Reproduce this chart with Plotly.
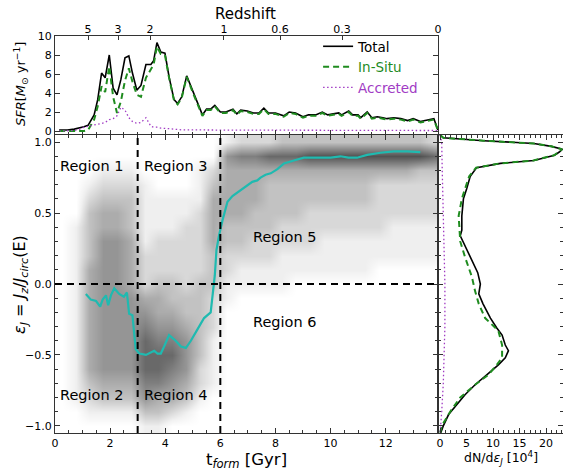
import plotly.graph_objects as go

FONT = "DejaVu Sans"

# ---- star formation history: cosmic time [Gyr] and SFR [Msun/yr] ----
t_sfr = [0.15, 0.45, 0.7, 0.9, 1.05, 1.2, 1.42, 1.55, 1.69, 1.82, 1.97, 2.11, 2.25, 2.39,
         2.54, 2.68, 2.81, 2.97, 3.12, 3.3, 3.48, 3.58, 3.7, 3.84, 3.99, 4.14, 4.32, 4.45,
         4.6, 4.78, 5.05, 5.35, 5.5, 5.65, 5.8, 6.0, 6.2, 6.46, 6.6, 6.74, 6.98, 7.2, 7.4,
         7.58, 7.75, 8.0, 8.3, 8.5, 8.73, 9.0, 9.2, 9.46, 9.7, 9.9, 10.1, 10.3, 10.4, 10.66,
         10.8, 11.0, 11.1, 11.33, 11.5, 11.7, 11.9, 12.05, 12.3, 12.55, 12.8, 13.0, 13.26,
         13.56, 13.75, 13.9]
sfr_total = [0.1, 0.1, 0.2, 0.3, 0.45, 0.6, 1.7, 3.3, 6.1, 5.6, 8.0, 4.5, 3.8, 5.4,
             7.7, 7.9, 6.1, 4.3, 4.8, 7.0, 7.0, 7.4, 9.3, 8.3, 8.2, 5.7, 3.3, 2.9,
             3.6, 5.8, 3.8, 1.7, 2.3, 2.3, 2.7, 2.0, 2.0, 2.3, 1.8, 2.2, 2.1, 1.9, 1.9,
             2.4, 1.9, 1.9, 1.6, 2.0, 1.9, 1.5, 1.7, 1.7, 2.0, 1.7, 1.8, 1.9, 1.7, 2.1,
             1.7, 1.7, 1.4, 2.0, 1.4, 1.5, 1.4, 1.3, 1.4, 1.3, 1.1, 1.3, 1.0,
             1.2, 1.3, 0.1]
sfr_insitu = [0.0, 0.0, 0.0, 0.0, 0.0, 0.1, 1.2, 2.6, 4.7, 4.1, 6.8, 3.6, 1.9, 3.1,
              5.3, 6.6, 5.2, 3.8, 3.6, 5.6, 6.6, 7.0, 8.9, 8.1, 8.0, 5.6, 3.2, 2.8,
              3.5, 5.7, 3.7, 1.6, 2.2, 2.2, 2.6, 1.9, 1.9, 2.2, 1.7, 2.1, 2.0, 1.8, 1.8,
              2.3, 1.8, 1.8, 1.5, 1.9, 1.8, 1.4, 1.6, 1.6, 1.9, 1.6, 1.7, 1.8, 1.6, 2.0,
              1.6, 1.6, 1.3, 1.9, 1.3, 1.4, 1.3, 1.2, 1.3, 1.2, 1.0, 1.2, 0.9,
              1.1, 1.2, 0.05]
sfr_accreted = [0.0, 0.0, 0.05, 0.2, 0.4, 0.5, 0.6, 0.7, 0.8, 0.9, 1.2, 1.3, 1.6, 2.5,
                2.2, 1.4, 1.0, 0.8, 0.9, 1.4, 0.5, 0.4, 0.4, 0.3, 0.3, 0.25, 0.2, 0.15,
                0.12, 0.12, 0.1, 0.1, 0.1, 0.1, 0.1, 0.1, 0.1, 0.1, 0.1, 0.1, 0.1, 0.1, 0.1,
                0.1, 0.1, 0.1, 0.1, 0.1, 0.1, 0.1, 0.1, 0.1, 0.1, 0.1, 0.1, 0.1, 0.1, 0.1,
                0.1, 0.1, 0.1, 0.1, 0.1, 0.1, 0.1, 0.1, 0.1, 0.1, 0.1, 0.1, 0.1,
                0.1, 0.1, 0.05]

# ---- redshift ticks along the top axis ----
redshift_labels = ["5", "3", "2", "1", "0.6", "0.3", "0"]
redshift_times = [1.2, 2.29, 3.45, 6.13, 8.17, 10.42, 13.9]

# ---- running median of circularity vs formation time ----
t_med = [1.12, 1.3, 1.49, 1.64, 1.73, 1.85, 1.93, 2.03, 2.15, 2.33, 2.5, 2.61, 2.69, 2.81,
         2.93, 3.06, 3.3, 3.47, 3.6, 3.72, 3.84, 3.96, 4.14, 4.38, 4.57, 4.75, 4.93, 5.17,
         5.41, 5.65, 5.74, 5.8, 5.86, 5.95, 6.08, 6.26, 6.44, 6.74, 6.98, 7.16, 7.34, 7.46,
         7.64, 7.83, 8.07, 8.31, 8.67, 9.03, 9.39, 9.64, 10.0, 10.36, 10.65, 10.96, 11.33,
         11.81, 12.29, 12.78, 13.26]
eps_med = [-0.07, -0.11, -0.12, -0.16, -0.11, -0.08, -0.15, -0.08, -0.03, -0.07, -0.09, -0.06,
           -0.21, -0.22, -0.46, -0.49, -0.5, -0.48, -0.47, -0.49, -0.49, -0.44, -0.36, -0.4,
           -0.44, -0.45, -0.4, -0.32, -0.24, -0.2, -0.06, 0.06, 0.24, 0.34, 0.45, 0.58, 0.62,
           0.66, 0.69, 0.72, 0.73, 0.75, 0.77, 0.78, 0.81, 0.85, 0.87, 0.89, 0.89, 0.89, 0.89,
           0.9, 0.89, 0.89, 0.91, 0.925, 0.935, 0.935, 0.93]

# ---- stellar density map (0 = empty .. 9 = densest) ----
map_t = [0.25, 0.75, 1.25, 1.75, 2.25, 2.75, 3.25, 3.75, 4.25, 4.75, 5.25, 5.75, 6.25, 6.75,
         7.25, 7.75, 8.25, 8.75, 9.25, 9.75, 10.25, 10.75, 11.25, 11.75, 12.25, 12.75,
         13.25, 13.75]
map_eps = [1.0, 0.9, 0.8, 0.7, 0.6, 0.5, 0.4, 0.3, 0.2, 0.1, 0.0, -0.1, -0.2, -0.3, -0.4,
           -0.5, -0.6, -0.7, -0.8, -0.9, -1.0]
map_rows = [
    "0000000000001222333333333332",
    "0000000000005667778888888887",
    "0001110000124444444444444433",
    "0012221000134443333333322222",
    "0023331111144443333333322222",
    "0034431111244433332222222222",
    "0134431112243333222222221111",
    "0135541222243322222111111111",
    "0135542222232222111111111111",
    "0145542222232111111111100000",
    "0145542332331111100000000000",
    "0145554433321000000000000000",
    "0145555443320000000000000000",
    "0145556554320000000000000000",
    "0145557665310000000000000000",
    "0145557775310000000000000000",
    "0145557765210000000000000000",
    "0134446654210000000000000000",
    "0123335443100000000000000000",
    "0011113321000000000000000000",
    "0000001100000000000000000000",
]

# ---- circularity distributions, dN/d(eps) in units of 1e4 ----
eps_total = [1.05, 1.03, 1.01, 0.99, 0.97, 0.95, 0.93, 0.907, 0.87, 0.85, 0.82, 0.76, 0.67,
             0.6, 0.48, 0.38, 0.34, 0.27, 0.15, 0.08, 0.0, -0.07, -0.14, -0.24, -0.31, -0.36,
             -0.43, -0.47, -0.52, -0.57, -0.64, -0.71, -0.78, -0.85, -0.92, -1.0, -1.05]
dn_total = [0.0, 0.6, 8.2, 17.7, 21.0, 23.1, 22.5, 21.6, 17.7, 11.4, 6.9, 5.7, 5.0,
            4.4, 4.1, 4.1, 3.8, 4.7, 6.3, 7.1, 7.6, 7.3, 8.1, 9.5, 10.7, 11.7,
            12.3, 12.9, 12.3, 11.0, 8.8, 6.6, 4.7, 3.2, 1.6, 0.6, 0.1]
eps_insitu = [1.05, 1.03, 1.01, 0.99, 0.97, 0.95, 0.93, 0.907, 0.87, 0.85, 0.82, 0.76, 0.67,
              0.6, 0.48, 0.38, 0.3, 0.19, 0.05, -0.05, -0.14, -0.24, -0.33, -0.43, -0.52,
              -0.57, -0.64, -0.71, -0.8, -0.9, -1.0, -1.05]
dn_insitu = [0.0, 0.6, 8.2, 17.7, 21.0, 23.0, 22.4, 21.5, 17.6, 11.3, 6.8, 5.5, 4.7,
             4.1, 3.5, 3.6, 3.8, 4.7, 6.0, 6.6, 7.3, 8.5, 11.0, 11.7, 11.7,
             10.7, 9.1, 6.6, 3.8, 1.9, 0.3, 0.0]
eps_accreted = [1.05, 1.0, 0.8, 0.5, 0.2, 0.0, -0.3, -0.5, -0.7, -0.9, -1.0, -1.05]
dn_accreted = [0.0, 0.3, 0.4, 0.6, 0.8, 0.9, 0.9, 0.8, 0.6, 0.3, 0.1, 0.0]

# ---- region boundaries and labels ----
t_cuts = [3, 6]
eps_cut = 0.0
region_names = ["Region 1", "Region 2", "Region 3", "Region 4", "Region 5", "Region 6"]
region_t = [0.12, 0.12, 3.14, 3.14, 7.1, 7.1]
region_eps = [0.83, -0.78, 0.83, -0.78, 0.33, -0.27]

T_MAX = 13.9
GREEN = "#1f8c1f"
PURPLE = "#a13bc4"
TEAL = "#1fbab0"
DASH = "7px,5px"

fig = go.Figure()

# top panel: star formation rates
fig.add_trace(go.Scatter(x=t_sfr, y=sfr_total, mode="lines", name="Total",
                         line=dict(color="black", width=1.6), xaxis="x", yaxis="y"))
fig.add_trace(go.Scatter(x=t_sfr, y=sfr_insitu, mode="lines",
                         name='<span style="color:%s">In-Situ</span>' % GREEN,
                         line=dict(color=GREEN, width=2, dash="6px,4px"), xaxis="x", yaxis="y"))
fig.add_trace(go.Scatter(x=t_sfr, y=sfr_accreted, mode="lines",
                         name='<span style="color:%s">Accreted</span>' % PURPLE,
                         line=dict(color=PURPLE, width=1.3, dash="1.5px,2.5px"), xaxis="x", yaxis="y"))
# invisible carrier so the redshift axis gets drawn
fig.add_trace(go.Scatter(x=redshift_times, y=[0] * len(redshift_times), mode="markers",
                         marker=dict(opacity=0), showlegend=False, hoverinfo="skip",
                         xaxis="x4", yaxis="y"))

# main panel: density of stars in (t_form, eps) plane
z = [[int(c) for c in row] for row in map_rows]
fig.add_trace(go.Heatmap(x=map_t, y=map_eps, z=z, zmin=0, zmax=9, zsmooth="best",
                         colorscale=[[0, "#ffffff"], [0.1, "#f1f1f1"], [1, "#3c3c3c"]],
                         showscale=False, hoverinfo="skip", xaxis="x2", yaxis="y2"))
fig.add_trace(go.Scatter(x=t_med, y=eps_med, mode="lines", showlegend=False,
                         line=dict(color=TEAL, width=2.2), xaxis="x2", yaxis="y2"))

# right panel: circularity distributions
fig.add_trace(go.Scatter(x=dn_total, y=eps_total, mode="lines", showlegend=False,
                         line=dict(color="black", width=1.6), xaxis="x3", yaxis="y3"))
fig.add_trace(go.Scatter(x=dn_insitu, y=eps_insitu, mode="lines", showlegend=False,
                         line=dict(color=GREEN, width=2, dash="6px,4px"), xaxis="x3", yaxis="y3"))
fig.add_trace(go.Scatter(x=dn_accreted, y=eps_accreted, mode="lines", showlegend=False,
                         line=dict(color=PURPLE, width=1.3, dash="1.5px,2.5px"), xaxis="x3", yaxis="y3"))

# region dividers
shapes = []
for tc in t_cuts:
    shapes.append(dict(type="line", xref="x2", yref="y2", x0=tc, x1=tc, y0=-1.05, y1=1.05,
                       line=dict(color="black", width=2, dash=DASH)))
shapes.append(dict(type="line", xref="x2", yref="y2", x0=0, x1=T_MAX, y0=eps_cut, y1=eps_cut,
                   line=dict(color="black", width=2, dash=DASH)))

annotations = []
for name, tx, ey in zip(region_names, region_t, region_eps):
    annotations.append(dict(x=tx, y=ey, xref="x2", yref="y2", text=name, showarrow=False,
                            xanchor="left", yanchor="middle",
                            font=dict(family=FONT, size=14.5, color="black")))


def label(x, y, text, size, angle=0):
    return dict(x=x, y=y, xref="paper", yref="paper", showarrow=False, text=text,
                xanchor="center", yanchor="middle", textangle=angle,
                font=dict(family=FONT, size=size, color="black"))


W, H = 563, 470
annotations += [
    label(246 / W, 1 - 460 / H, "t<sub><i>form</i></sub> [Gyr]", 16.5),
    label(245 / W, 1 - 14 / H, "Redshift", 15),
    label(501 / W, 1 - 458 / H, "dN/d<i>ε</i><sub><i>J</i></sub> [10<sup>4</sup>]", 12.5),
    label(20 / W, 1 - 285 / H,
          "<i>ε</i><sub><i>J</i></sub> = <i>J</i><sub><i>z</i></sub>/<i>J</i><sub><i>circ</i></sub>(E)",
          16, -90),
    label(21 / W, 1 - 84 / H, "<i>SFR</i>[<i>M</i><sub>⊙</sub> yr<sup>−1</sup>]", 13, -90),
]

X_LEFT, X_MID = 55 / W, 438 / W
Y_BOT, Y_MID, Y_TOP = 1 - 433 / H, 1 - 135 / H, 1 - 36 / H

tick_font = dict(family=FONT, size=11, color="black")
common = dict(showgrid=False, zeroline=False, showline=True, linecolor="#333333", linewidth=1,
              ticks="inside", tickcolor="#333333", tickfont=tick_font, automargin=False)
minor_style = dict(ticks="inside", ticklen=3, tickcolor="#333333")

fig.update_layout(
    width=W, height=H, margin=dict(l=0, r=0, t=0, b=0, autoexpand=False),
    paper_bgcolor="white", plot_bgcolor="white",
    font=dict(family=FONT, color="black"),
    xaxis=dict(domain=[X_LEFT, X_MID], anchor="y", range=[0, T_MAX], dtick=2, ticklen=5,
               showticklabels=False, mirror=True, minor=dict(dtick=0.5, **minor_style), **common),
    yaxis=dict(domain=[Y_MID, Y_TOP], anchor="x", range=[-0.42, 10], dtick=2, ticklen=5,
               mirror="ticks", **common),
    xaxis4=dict(overlaying="x", anchor="y", side="top", range=[0, T_MAX],
                tickmode="array", tickvals=redshift_times, ticktext=redshift_labels,
                ticks="inside", ticklen=4, tickcolor="#333333", tickfont=tick_font,
                showgrid=False, zeroline=False, showline=False, automargin=False),
    xaxis2=dict(domain=[X_LEFT, X_MID], anchor="y2", range=[0, T_MAX], dtick=2, ticklen=5,
                mirror="allticks", minor=dict(dtick=0.5, **minor_style), **common),
    yaxis2=dict(domain=[Y_BOT, Y_MID], anchor="x2", range=[-1.05, 1.05], dtick=0.5,
                tickformat=".1f", ticklen=5, mirror="allticks",
                minor=dict(dtick=0.1, **minor_style), **common),
    xaxis3=dict(domain=[X_MID, 1.0], anchor="y3", range=[-0.4, 23.2], dtick=5, ticklen=5,
                mirror="allticks", minor=dict(dtick=1, **minor_style), **common),
    yaxis3=dict(domain=[Y_BOT, Y_MID], anchor="x3", range=[-1.05, 1.05], dtick=0.5, ticklen=5,
                showticklabels=False, mirror="allticks",
                minor=dict(dtick=0.1, **minor_style), **common),
    legend=dict(x=0.565, y=0.934, xanchor="left", yanchor="top", bgcolor="rgba(0,0,0,0)",
                font=dict(family=FONT, size=13.5, color="black"), tracegroupgap=0,
                itemwidth=30),
    shapes=shapes,
    annotations=annotations,
)

fig.write_html("out.html")
